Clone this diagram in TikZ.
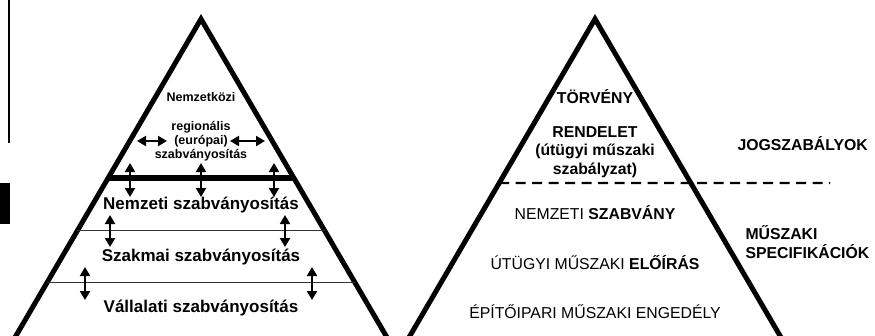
\documentclass[tikz,border=0pt]{standalone}
\usepackage{fontspec}
\setmainfont{Liberation Sans}
\usetikzlibrary{calc, arrows.meta}

\tikzset{
	side/.style = {line width=5pt, line join=miter},
	dblarrow/.style = {{Triangle[length=9pt,width=10pt]}-{Triangle[length=9pt,width=10pt]}, line width=2pt},
	small/.style = {font=\fontsize{12.5}{14}\selectfont\bfseries, align=center},
	big/.style = {font=\fontsize{17}{20}\selectfont\bfseries},
	plain/.style = {font=\fontsize{15.8}{18.6}\selectfont, align=center},
	sidelabel/.style = {font=\fontsize{15.8}{19}\selectfont\bfseries, align=left, anchor=west}
}

\begin{document}
\begin{tikzpicture}[x=1pt, y=-1pt]

	\useasboundingbox (0,0) rectangle (875,335);

	% margin marks
	\draw[line width=1.5pt] (9,0) -- (9,143);
	\fill (0,183) rectangle (10,224);

	% left pyramid
	\coordinate (lapex) at (201,19);
	\coordinate (lbl) at (13.5,340);
	\coordinate (lbr) at (388.5,340);
	\draw[side] (lbl) -- (lapex) -- (lbr);
	\draw[line width=6.5pt] ($(lapex)!0.495!(lbl)$) -- ($(lapex)!0.495!(lbr)$);
	\draw[line width=0.8pt, black!80] ($(lapex)!0.660!(lbl)$) -- ($(lapex)!0.660!(lbr)$);
	\draw[line width=0.8pt, black!80] ($(lapex)!0.822!(lbl)$) -- ($(lapex)!0.822!(lbr)$);

	\node[small] (intl) at (201,97) {Nemzetközi};
	\node[small] (regio) at (201,141) {regionális\\(európai)\\szabványosítás};
	\node[big] (nat) at (201,205) {Nemzeti szabványosítás};
	\node[big] (prof) at (201,257) {Szakmai szabványosítás};
	\node[big] (comp) at (201,308) {Vállalati szabványosítás};

	\draw[dblarrow] (137,141) -- (167,141);
	\draw[dblarrow] (230,141) -- (265,141);
	\foreach \x in {130,201,274}
		\draw[dblarrow] (\x,163) -- (\x,197);
	\foreach \x in {110,285}
		\draw[dblarrow] (\x,215) -- (\x,247);
	\foreach \x in {85,312}
		\draw[dblarrow] (\x,267) -- (\x,300);

	% right pyramid
	\coordinate (rapex) at (595,19);
	\coordinate (rbl) at (407.5,340);
	\coordinate (rbr) at (782.5,340);
	\draw[side] (rbl) -- (rapex) -- (rbr);
	\coordinate (dashend) at (830,183);
	\draw[line width=2.3pt, dash pattern=on 10pt off 6.5pt] ($(rapex)!0.511!(rbl)$) -- (dashend);

	\node[plain, font=\fontsize{15.8}{18.6}\selectfont\bfseries] (law) at (595,97) {TÖRVÉNY};
	\node[plain, font=\fontsize{15.8}{18.6}\selectfont\bfseries] (decree) at (595,152) {RENDELET\\(útügyi műszaki\\szabályzat)};
	\node[plain] (natstd) at (595,213) {NEMZETI \textbf{SZABVÁNY}};
	\node[plain] (roadreg) at (595,263) {ÚTÜGYI MŰSZAKI \textbf{ELŐÍRÁS}};
	\node[plain] (permit) at (595,312) {ÉPÍTŐIPARI MŰSZAKI ENGEDÉLY};

	\node[sidelabel] (legal) at (734,144) {JOGSZABÁLYOK};
	\node[sidelabel] (spec) at (742,242.5) {MŰSZAKI\\SPECIFIKÁCIÓK};

\end{tikzpicture}
\end{document}
